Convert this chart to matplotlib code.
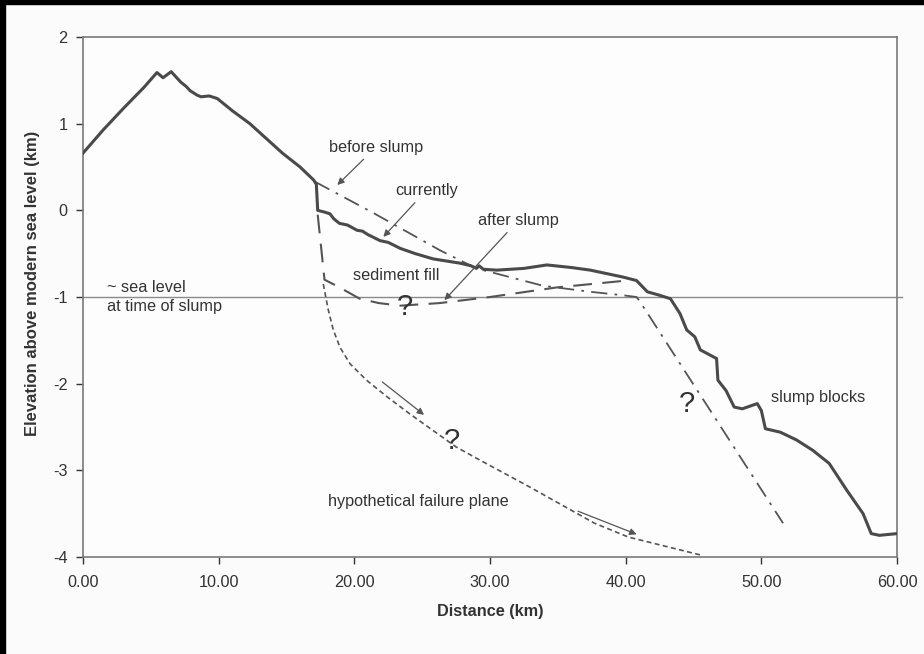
import matplotlib
matplotlib.use("Agg")
import matplotlib.pyplot as plt
from matplotlib.patches import Rectangle

plt.rcParams['font.family'] = ['Liberation Sans', 'DejaVu Sans']

# present-day profile (km)
current_x = [0.0, 1.5, 3.0, 4.5, 5.45, 5.9, 6.5, 7.2, 7.6, 7.9, 8.4, 8.7, 9.3, 9.9, 11.0, 12.3,
             13.5, 14.7, 16.0, 17.0, 17.2, 17.3, 17.8, 18.2, 18.5, 18.9, 19.5, 20.2, 20.6,
             21.0, 21.9, 22.5, 23.4, 24.5, 25.8, 27.0, 27.8, 28.6, 29.0, 29.2, 29.5, 30.5,
             32.5, 34.2, 36.0, 37.4, 39.8, 40.8, 41.6, 42.5, 43.3, 44.0, 44.5, 45.1, 45.5,
             46.7, 46.8, 47.4, 48.0, 48.6, 49.7, 50.0, 50.3, 51.4, 52.6, 53.8, 55.0, 56.3,
             57.5, 58.1, 58.7, 60.0]
current_y = [0.66, 0.93, 1.18, 1.42, 1.59, 1.53, 1.60, 1.48, 1.43, 1.38, 1.33, 1.31, 1.32, 1.29, 1.15, 1.00,
             0.83, 0.66, 0.50, 0.35, 0.30, 0.00, -0.02, -0.04, -0.10, -0.15, -0.17, -0.23, -0.24,
             -0.28, -0.35, -0.37, -0.44, -0.50, -0.56, -0.59, -0.61, -0.64, -0.67, -0.64, -0.68, -0.69,
             -0.67, -0.63, -0.66, -0.69, -0.77, -0.81, -0.94, -0.98, -1.02, -1.19, -1.38, -1.46, -1.61,
             -1.71, -1.96, -2.08, -2.27, -2.29, -2.23, -2.31, -2.52, -2.56, -2.65, -2.77, -2.92, -3.23,
             -3.50, -3.73, -3.75, -3.73]

# surface before the slump
before_x = [17.1, 21.4, 26.3, 29.0, 33.9, 37.4, 39.8, 40.8, 41.0, 51.6]
before_y = [0.33, -0.03, -0.46, -0.67, -0.87, -0.94, -0.98, -1.00, -1.04, -3.61]

# surface just after the slump
after_x = [17.3, 17.6, 17.8, 18.8, 20.4, 21.8, 23.4, 26.3, 30.0, 34.9, 40.1]
after_y = [-0.05, -0.50, -0.80, -0.88, -1.02, -1.07, -1.10, -1.07, -1.00, -0.89, -0.81]

# hypothetical failure plane
fail_x = [17.71, 18.08, 18.45, 18.94, 19.68, 20.9, 22.4, 24.1, 25.8, 27.5, 29.0, 32.9,
          37.7, 40.2, 45.6]
fail_y = [-0.85, -1.15, -1.38, -1.58, -1.77, -1.96, -2.15, -2.35, -2.54, -2.73, -2.86, -3.19,
          -3.61, -3.77, -3.98]

sea_level = -1.0
x_ticks = [0, 10, 20, 30, 40, 50, 60]
y_ticks = [2, 1, 0, -1, -2, -3, -4]

fig = plt.figure(figsize=(9.24, 6.54), dpi=100, facecolor='#fbfbfb')
ax = fig.add_axes([83 / 924, 1 - 557 / 654, 814 / 924, 520 / 654])
ax.set_facecolor('#fdfdfd')

# black scan edges
fig.patches.append(Rectangle((0, 1 - 4 / 654), 1, 4 / 654, transform=fig.transFigure,
                             color='black', zorder=10))
fig.patches.append(Rectangle((0, 0), 5 / 924, 1, transform=fig.transFigure,
                             color='black', zorder=10))

ax.plot([0, 60.4], [sea_level, sea_level], color='#8a8a8a', lw=1.0, clip_on=False, zorder=1)
ax.plot(current_x, current_y, color='#4a4a4a', lw=2.2, zorder=3)
ax.plot(before_x, before_y, color='#555555', lw=1.3, dashes=(9, 4, 1.5, 4), zorder=2)
ax.plot(after_x, after_y, color='#555555', lw=1.5, dashes=(9, 5), zorder=2)
ax.plot(fail_x, fail_y, color='#555555', lw=1.2, dashes=(3, 2), zorder=2)

fs = 11.7
txt = dict(fontsize=fs, color='#333333')
arr = dict(arrowstyle='-|>', color='#555555', lw=0.9, mutation_scale=10)
ax.annotate('before slump', xy=(18.6, 0.27), xytext=(21.6, 0.73), ha='center', va='center',
            arrowprops=arr, **txt)
ax.annotate('currently', xy=(22.0, -0.33), xytext=(25.3, 0.23), ha='center', va='center',
            arrowprops=arr, **txt)
ax.annotate('after slump', xy=(26.5, -1.06), xytext=(32.1, -0.115), ha='center', va='center',
            arrowprops=arr, **txt)
ax.text(23.1, -0.75, 'sediment fill', ha='center', va='center', **txt)
ax.text(1.8, -1.0, '~ sea level\nat time of slump', ha='left', va='center', linespacing=1.3, **txt)
ax.text(54.2, -2.16, 'slump blocks', ha='center', va='center', **txt)
ax.text(24.7, -3.36, 'hypothetical failure plane', ha='center', va='center', **txt)

q = dict(fontsize=21, color='#333333', ha='center', va='center')
ax.text(23.7, -1.12, '?', **q)
ax.text(27.2, -2.66, '?', **q)
ax.text(44.5, -2.23, '?', **q)

ax.annotate('', xy=(25.3, -2.38), xytext=(21.9, -1.96), arrowprops=arr)
ax.annotate('', xy=(41.0, -3.75), xytext=(36.3, -3.46), arrowprops=arr)

ax.set_xlim(0, 60)
ax.set_ylim(-4, 2)
ax.set_xticks(x_ticks)
ax.set_xticklabels(['%.2f' % v for v in x_ticks])
ax.set_yticks(y_ticks)
ax.set_yticklabels([str(v) for v in y_ticks])
ax.tick_params(labelsize=fs, colors='#333333', length=5, width=1, pad=8)
ax.tick_params(axis='y', pad=6)
for s in ax.spines.values():
    s.set_color('#7a7a7a')
    s.set_linewidth(1.2)

ax.set_xlabel('Distance (km)', fontsize=fs, fontweight='bold', color='#333333', labelpad=10)
ax.set_ylabel('Elevation above modern sea level (km)', fontsize=12, fontweight='bold',
              color='#333333')
ax.yaxis.set_label_coords(-0.053, 0.527)

fig.savefig('out.png', dpi=100, facecolor=fig.get_facecolor())
